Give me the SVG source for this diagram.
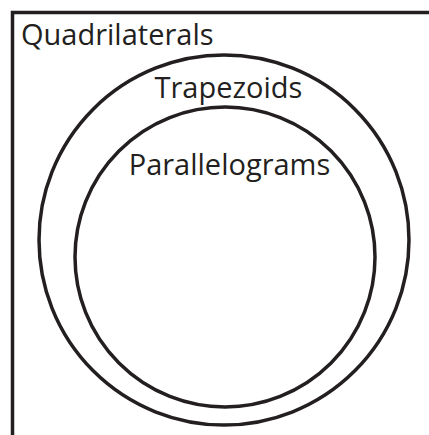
<svg xmlns="http://www.w3.org/2000/svg" width="429" height="435" viewBox="0 0 429 435">
<style>
.ln{fill:none;stroke:#231f20;stroke-width:3.5}
.t{font-family:"Open Sans","Noto Sans",sans-serif;font-size:29px;fill:#231f20}
</style>
<rect width="429" height="435" fill="#fff"/>
<g id="quadrilaterals">
<path class="ln" d="M12.5,435 V12.5 H429"/>
<text class="t" x="21" y="45">Quadrilaterals</text>
</g>
<g id="trapezoids">
<circle class="ln" cx="224" cy="240" r="185"/>
<text class="t" x="228.5" y="98" text-anchor="middle">Trapezoids</text>
</g>
<g id="parallelograms">
<circle class="ln" cx="225" cy="257" r="150"/>
<text class="t" x="229.5" y="175" text-anchor="middle">Parallelograms</text>
</g>
<g id="connectors"/>
</svg>
